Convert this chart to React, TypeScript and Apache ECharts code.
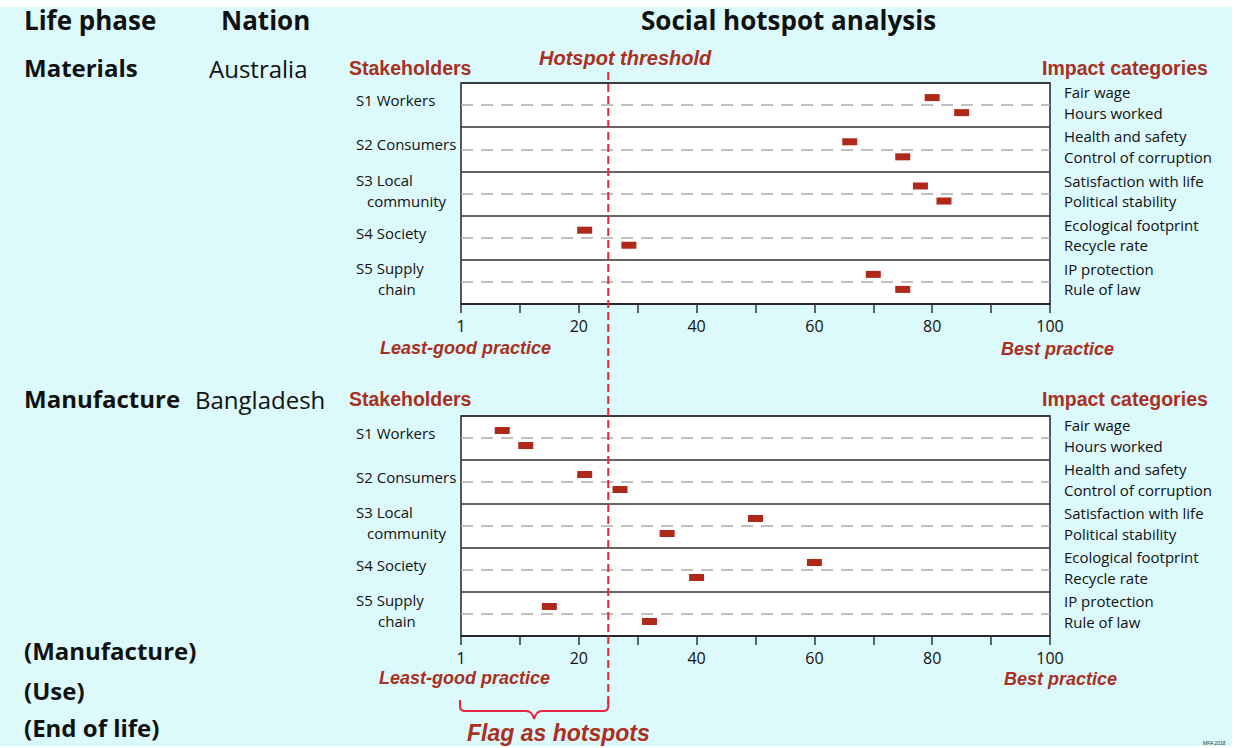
import React, { useEffect, useRef } from "react";
import * as echarts from "echarts";

const STAKEHOLDERS: string[][] = [
  ["S1 Workers"],
  ["S2 Consumers"],
  ["S3 Local", "community"],
  ["S4 Society"],
  ["S5 Supply", "chain"],
];
const IMPACT_CATEGORIES = [
  "Fair wage",
  "Hours worked",
  "Health and safety",
  "Control of corruption",
  "Satisfaction with life",
  "Political stability",
  "Ecological footprint",
  "Recycle rate",
  "IP protection",
  "Rule of law",
];
const AUSTRALIA_SCORES = [80, 85, 66, 75, 78, 82, 21, 28.5, 70, 75];
const BANGLADESH_SCORES = [7, 11, 21, 27, 50, 35, 60, 40, 15, 32];
const THRESHOLD = 25;
const X_TICK_LABELS: Record<number, string> = { 0: "1", 20: "20", 40: "40", 60: "60", 80: "80", 100: "100" };
const PANELS = [
  { phase: "Materials", nation: "Australia", scores: AUSTRALIA_SCORES },
  { phase: "Manufacture", nation: "Bangladesh", scores: BANGLADESH_SCORES },
];

const RED_TEXT = "#a9301f";
const MARK_RED = "#b0281a";
const LINE_RED = "#e6263c";
const SANS = "'Open Sans', 'Noto Sans', sans-serif";
const ARIAL = "'Liberation Sans', Arial, sans-serif";

export default function App() {
  const ref = useRef<HTMLDivElement>(null);
  useEffect(() => {
    if (!ref.current) return;
    const chart = echarts.init(ref.current, null, { renderer: "svg" });
    const gridTops = [83, 416];
    const gridHeights = [221, 220];
    const grids = gridTops.map((t, i) => ({
      left: 461,
      width: 589,
      top: t,
      height: gridHeights[i],
      show: true,
      backgroundColor: "#ffffff",
      borderColor: "#222",
      borderWidth: 1.5,
    }));
    const xAxes = PANELS.map((_, i) => ({
      type: "value",
      gridIndex: i,
      min: 0,
      max: 100,
      interval: 10,
      axisLine: { show: true, onZero: false, lineStyle: { color: "#222", width: 1.5 } },
      axisTick: { show: true, length: 9, lineStyle: { color: "#333", width: 1.5 } },
      splitLine: { show: false },
      axisLabel: {
        margin: 14,
        color: "#111",
        fontSize: 16,
        fontFamily: SANS,
        showMinLabel: true,
        showMaxLabel: true,
        formatter: (v: number) => X_TICK_LABELS[Math.round(v)] ?? "",
      },
    }));
    const yAxes = PANELS.map((_, i) => ({
      type: "value",
      gridIndex: i,
      min: 0,
      max: STAKEHOLDERS.length,
      interval: 1,
      inverse: true,
      axisLine: { show: false },
      axisTick: { show: false },
      axisLabel: { show: false },
      splitLine: { show: true, lineStyle: { color: "#333", width: 1.5 } },
    }));
    const series = PANELS.map((p, i) => ({
      type: "scatter",
      xAxisIndex: i,
      yAxisIndex: i,
      symbol: "rect",
      symbolSize: [15, 7],
      itemStyle: { color: MARK_RED, opacity: 1 },
      z: 5,
      data: p.scores.map((v, k) => [v, Math.floor(k / 2) + 0.5 + (k % 2 === 0 ? -0.17 : 0.17)]),
      markLine: {
        silent: true,
        symbol: ["none", "none"],
        label: { show: false },
        lineStyle: { color: "#aaaaaa", type: [12, 8], width: 1.5 },
        data: STAKEHOLDERS.map((_, s) => ({ yAxis: s + 0.5 })),
      },
    }));
    chart.setOption({
      animation: false,
      backgroundColor: "transparent",
      grid: grids,
      xAxis: xAxes,
      yAxis: yAxes,
      series,
    });

    const px = (g: number, x: number, y: number) =>
      chart.convertToPixel({ gridIndex: g } as any, [x, y]) as number[];

    const els: any[] = [];
    const txt = (text: string, x: number, y: number, opts: any = {}) =>
      els.push({
        type: "text",
        x,
        y,
        silent: true,
        style: {
          text,
          fill: "#111",
          fontSize: 15,
          fontFamily: SANS,
          verticalAlign: "middle",
          align: "left",
          ...opts,
        },
      });
    const headBold = { fontSize: 26, fontWeight: "bold", fontFamily: SANS };
    const phaseBold = { fontSize: 24, fontWeight: "bold", fontFamily: SANS };
    const redBold = { fontSize: 19.5, fontWeight: "bold", fontFamily: ARIAL, fill: RED_TEXT };
    const redItal = { fontSize: 18, fontWeight: "bold", fontStyle: "italic", fontFamily: ARIAL, fill: RED_TEXT };

    txt("Life phase", 24, 20, headBold);
    txt("Nation", 221, 20, headBold);
    txt("Social hotspot analysis", 641, 20, headBold);
    txt("Hotspot threshold", 539, 58, { ...redItal, fontSize: 20 });

    const secondIndent = [0, 0, 11, 0, 22];
    const headY = [67, 398];
    const practiceY = [[347.5, 349], [678, 679]];
    const practiceX = [[380, 1001], [379, 1004]];
    PANELS.forEach((p, g) => {
      txt(p.phase, 24, headY[g], phaseBold);
      txt(p.nation, g === 0 ? 209 : 195, headY[g] + 1, { fontSize: 24, fontFamily: SANS });
      txt("Stakeholders", 349, headY[g] + 1, redBold);
      txt("Impact categories", 1042, headY[g] + 1, redBold);
      txt("Least-good practice", practiceX[g][0], practiceY[g][0], redItal);
      txt("Best practice", practiceX[g][1], practiceY[g][1], redItal);
      STAKEHOLDERS.forEach((lines, s) => {
        const cy = px(g, 0, s + 0.5)[1];
        if (lines.length === 1) {
          txt(lines[0], 356, cy - 5);
        } else {
          txt(lines[0], 356, cy - 14);
          txt(lines[1], 356 + secondIndent[s], cy + 7);
        }
      });
      IMPACT_CATEGORIES.forEach((c, k) => {
        const cy = px(g, 100, Math.floor(k / 2) + 0.5)[1];
        const rx = px(g, 100, 0)[0];
        txt(c, rx + 14, cy + (k % 2 === 0 ? -13 : 7.5));
      });
    });
    txt("(Manufacture)", 24, 650, phaseBold);
    txt("(Use)", 24, 690, phaseBold);
    txt("(End of life)", 24, 727, phaseBold);
    txt("Flag as hotspots", 467, 733, { ...redItal, fontSize: 23 });
    txt("MFA 2018", 1203, 743, { fontSize: 5, fontFamily: ARIAL, fill: "#333" });

    const tx = px(0, THRESHOLD, 0)[0];
    els.push({
      type: "line",
      silent: true,
      z: 50,
      shape: { x1: tx, y1: 72, x2: tx, y2: 708 },
      style: { stroke: LINE_RED, lineWidth: 2, lineDash: [8, 4] },
    });
    const x0 = px(1, 0, 0)[0] - 1;
    const x1 = tx;
    const xm = (x0 + x1) / 2;
    const yT = 700;
    const yH = 711;
    const yTip = 719;
    const d =
      `M${x0},${yT} L${x0},${yH - 5} Q${x0},${yH} ${x0 + 5},${yH} ` +
      `L${xm - 8},${yH} Q${xm - 2},${yH} ${xm},${yTip} Q${xm + 2},${yH} ${xm + 8},${yH} ` +
      `L${x1 - 5},${yH} Q${x1},${yH} ${x1},${yH - 5} L${x1},${yT}`;
    echarts.graphic.registerShape("brace", echarts.graphic.extendPath(d, {}) as any);
    els.push({
      type: "brace",
      x: 0,
      y: 0,
      silent: true,
      z: 50,
      style: { stroke: LINE_RED, lineWidth: 2, fill: "none" },
    });

    chart.setOption({ graphic: { elements: els } });
    return () => chart.dispose();
  }, []);

  return (
    <div style={{ position: "absolute", left: 0, top: 0, width: 1235, height: 748, background: "#ffffff" }}>
      <div style={{ position: "absolute", left: 0, top: 7, width: 1232, height: 739, background: "#dcf9fb" }} />
      <div ref={ref} style={{ position: "absolute", left: 0, top: 0, width: 1235, height: 748 }} />
    </div>
  );
}
